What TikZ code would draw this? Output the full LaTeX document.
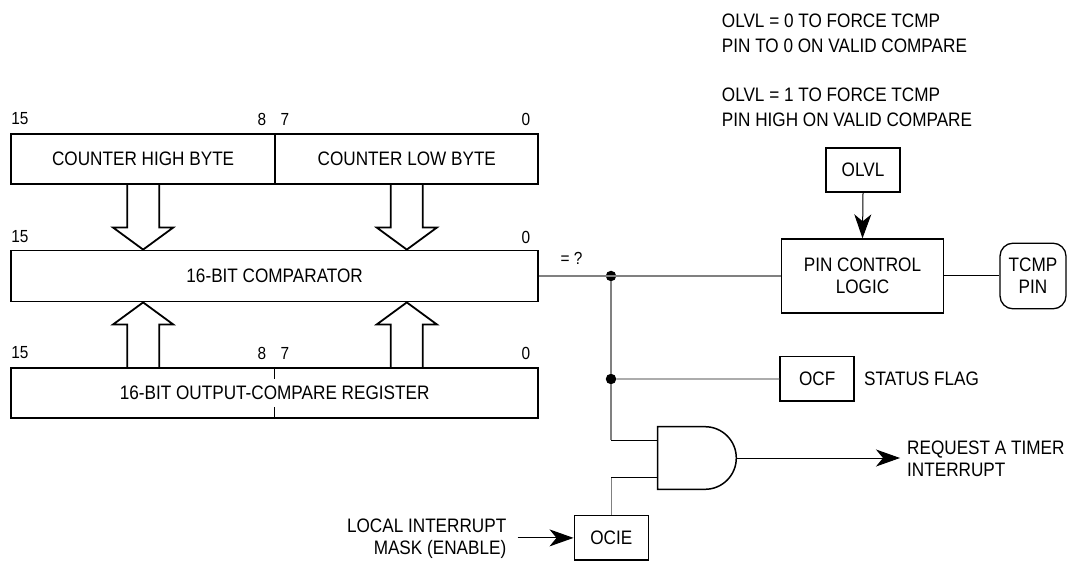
\documentclass[tikz,border=0pt]{standalone}
\usepackage{fontspec}
\setmainfont{Liberation Sans}[FakeStretch=0.88]
\usetikzlibrary{arrows.meta,calc}

\begin{document}
\begin{tikzpicture}[x=1pt,y=-1pt,
  every node/.style={font=\fontsize{19.5}{22}\selectfont,inner sep=0pt},
  regbox/.style={draw,line width=1.8pt,minimum height=50pt},
  flagbox/.style={draw,line width=1.6pt,minimum width=74pt,minimum height=44.5pt},
  bit/.style={font=\fontsize{17.5}{20}\selectfont},
  note/.style={anchor=west,align=left,font=\fontsize{19.5}{25}\selectfont},
  wire/.style={draw=black!50,line width=1.3pt},
  lead/.style={line width=1pt},
  tip/.style={-{Stealth[length=24pt,width=17pt,inset=7pt]}},
  bus/.style={line width=1.8pt,line join=miter},
  dot/.style={circle,fill,minimum size=10.5pt}]
  \useasboundingbox (0,0) rectangle (1068,561);

  % registers
  \node[regbox,minimum width=264.3pt] (hi) at (143.15,159) {COUNTER HIGH BYTE};
  \node[regbox,minimum width=263pt] (lo) at (406.8,159) {COUNTER LOW BYTE};
  \node[regbox,minimum width=527.3pt,minimum height=51pt] (cmp) at (274.65,276) {16-BIT COMPARATOR};
  \node[regbox,minimum width=527.3pt] (ocr) at (274.65,393.2) {16-BIT OUTPUT-COMPARE REGISTER};
  \draw[lead] (ocr.north) -- ++(0,12);
  \draw[lead] (ocr.south) -- ++(0,-12);

  \foreach \yy in {119,237,353}{
    \node[bit] (l15-\yy) at (20,\yy) {15};
    \node[bit] (l0-\yy) at (526,\yy) {0};
  }
  \foreach \yy in {119,353}{
    \node[bit] (l8-\yy) at (262,\yy) {8};
    \node[bit] (l7-\yy) at (285,\yy) {7};
  }

  % hollow bus arrows
  \foreach \a/\b in {hi.south/hi.south|-cmp.north, lo.south/lo.south|-cmp.north,
      hi.south|-ocr.north/hi.south|-cmp.south, lo.south|-ocr.north/lo.south|-cmp.south}
    \draw[bus] let \p1=(\a), \p2=(\b), \n1={(\y2-\y1)/abs(\y2-\y1)} in
      ({\x1-16pt},\y1) -- ({\x1-16pt},{\y2-(\n1)*22pt}) -- ({\x1-30pt},{\y2-(\n1)*22pt})
      -- (\x1,\y2) -- ({\x1+30pt},{\y2-(\n1)*22pt}) -- ({\x1+16pt},{\y2-(\n1)*22pt})
      -- ({\x1+16pt},\y1);

  % notes and control
  \node[note] (olvl0) at (721.7,33.2) {OLVL = 0 TO FORCE TCMP\\PIN TO 0 ON VALID COMPARE};
  \node[note] (olvl1) at (721.7,107.2) {OLVL = 1 TO FORCE TCMP\\PIN HIGH ON VALID COMPARE};
  \node[flagbox] (olvl) at (863,170) {OLVL};
  \node[draw,line width=1.6pt,minimum width=161.7pt,minimum height=73.7pt,align=center] (pcl) at (862.5,276) {PIN CONTROL\\LOGIC};
  \node[draw,line width=1.3pt,rounded corners=13pt,minimum width=66pt,minimum height=65.6pt,align=center] (pin) at (1033,276) {TCMP\\PIN};
  \node[flagbox] (ocf) at (817.2,378.9) {OCF};
  \node[anchor=west] (flag) at (864,379) {STATUS FLAG};
  \node[flagbox] (ocie) at (611.3,537.9) {OCIE};
  \node[anchor=east,align=right] (mask) at (506.5,539) {LOCAL INTERRUPT\\MASK (ENABLE)};
  \node[anchor=west,align=left] (req) at (907,459) {REQUEST A TIMER\\INTERRUPT};
  \node[bit] (eq) at (571.5,258) {= ?};

  % and gate
  \coordinate (in1) at (657.7,440);
  \coordinate (in2) at (657.7,477.7);
  \coordinate (out) at (736,458);
  \draw[line width=1.5pt] (657.7,426.7) -- (705,426.7) arc[start angle=90,end angle=-90,radius=31.3pt] -- (657.7,489.3) -- cycle;

  \node[dot] (j1) at (611,276) {};
  \node[dot] (j2) at (611,379) {};
  \draw[wire] (cmp.east) -- (pcl.west);
  \draw[wire] (j1) -- (j2) -- (j2 |- in1);
  \draw[lead] (j2 |- in1) -- (in1);
  \draw[wire] (j2) -- (ocf.west);
  \draw[wire] (ocie.north) -- (ocie.north |- in2);
  \draw[lead] (ocie.north |- in2) -- (in2);
  \draw[lead] (pcl.east) -- (pin.west);
  \draw[lead,tip] (olvl.south) -- (pcl.north);
  \draw[lead,tip] (out) -- ($(req.west |- out)+(-7,0)$);
  \draw[lead,tip] ($(mask.east |- ocie.west)+(11,0)$) -- (ocie.west);
\end{tikzpicture}
\end{document}
